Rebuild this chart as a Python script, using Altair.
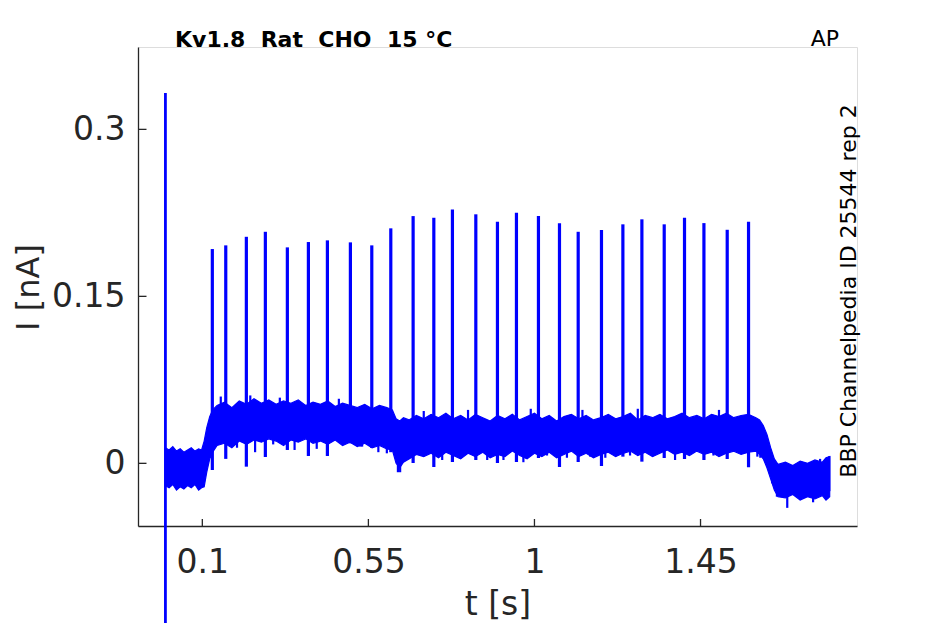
import altair as alt
import pandas as pd

# ---------------- data ----------------
# noisy current band: time [s], upper and lower envelope [nA]
band_t = [0.000, 0.010, 0.020, 0.030, 0.040, 0.050, 0.060, 0.070, 0.080, 0.090,
          0.098, 0.105, 0.112, 0.120, 0.128, 0.140, 0.160, 0.180, 0.200, 0.220,
          0.240, 0.260, 0.280, 0.300, 0.320, 0.340, 0.360, 0.380, 0.400, 0.420,
          0.440, 0.460, 0.480, 0.500, 0.520, 0.540, 0.560, 0.580, 0.600, 0.615,
          0.625, 0.635, 0.645, 0.660, 0.680, 0.700, 0.720, 0.740, 0.760, 0.780,
          0.800, 0.820, 0.840, 0.860, 0.880, 0.900, 0.920, 0.940, 0.960, 0.980,
          1.000, 1.020, 1.040, 1.060, 1.080, 1.100, 1.120, 1.140, 1.160, 1.180,
          1.200, 1.220, 1.240, 1.260, 1.280, 1.300, 1.320, 1.340, 1.360, 1.380,
          1.400, 1.420, 1.440, 1.460, 1.480, 1.500, 1.520, 1.540, 1.560, 1.580,
          1.600, 1.610, 1.620, 1.630, 1.640, 1.650, 1.660, 1.680, 1.700, 1.720,
          1.740, 1.760, 1.780, 1.790, 1.800]
band_hi = [0.014, 0.012, 0.015, 0.011, 0.013, 0.010, 0.012, 0.014, 0.011, 0.013,
           0.012, 0.020, 0.032, 0.042, 0.048, 0.052, 0.055, 0.050, 0.056, 0.053,
           0.058, 0.054, 0.057, 0.053, 0.056, 0.054, 0.057, 0.052, 0.055, 0.053,
           0.056, 0.051, 0.054, 0.052, 0.050, 0.053, 0.049, 0.052, 0.050, 0.048,
           0.040, 0.038, 0.041, 0.039, 0.043, 0.040, 0.044, 0.041, 0.045, 0.040,
           0.043, 0.039, 0.044, 0.041, 0.038, 0.043, 0.040, 0.044, 0.039, 0.042,
           0.045, 0.040, 0.043, 0.038, 0.042, 0.044, 0.040, 0.043, 0.039, 0.041,
           0.044, 0.040, 0.042, 0.045, 0.039, 0.043, 0.041, 0.044, 0.040, 0.042,
           0.045, 0.041, 0.043, 0.040, 0.044, 0.042, 0.045, 0.041, 0.043, 0.044,
           0.041, 0.039, 0.034, 0.026, 0.014, 0.004, -0.001, 0.001, -0.002, 0.002,
           0.000, 0.003, 0.001, 0.005, 0.006]
band_lo = [-0.020, -0.022, -0.019, -0.024, -0.021, -0.023, -0.020, -0.022, -0.019, -0.024,
           -0.022, -0.021, -0.008, 0.004, 0.010, 0.016, 0.018, 0.014, 0.020, 0.017,
           0.021, 0.019, 0.022, 0.020, 0.016, 0.021, 0.019, 0.022, 0.018, 0.020,
           0.017, 0.021, 0.016, 0.019, 0.015, 0.018, 0.014, 0.016, 0.013, 0.012,
           0.000, -0.004, 0.001, 0.004, 0.008, 0.006, 0.009, 0.005, 0.010, 0.007,
           0.004, 0.009, 0.006, 0.010, 0.005, 0.008, 0.006, 0.011, 0.007, 0.004,
           0.009, 0.006, 0.010, 0.005, 0.008, 0.011, 0.006, 0.009, 0.005, 0.008,
           0.010, 0.006, 0.009, 0.011, 0.007, 0.010, 0.006, 0.009, 0.012, 0.008,
           0.010, 0.007, 0.011, 0.008, 0.010, 0.006, 0.009, 0.011, 0.008, 0.010,
           0.011, 0.008, 0.004, -0.004, -0.014, -0.024, -0.030, -0.031, -0.028, -0.033,
           -0.030, -0.032, -0.029, -0.033, -0.030]

# action-potential spikes: time [s], peak [nA], undershoot [nA]
spike_t = [0.1271, 0.1635, 0.2193, 0.2708, 0.3304, 0.3874, 0.4389, 0.5012, 0.5592,
           0.6107, 0.6712, 0.7273, 0.7777, 0.8411, 0.8997, 0.9512, 1.0108, 1.0678,
           1.1185, 1.1816, 1.2396, 1.2911, 1.3516, 1.4066, 1.4592, 1.5223, 1.5801]
spike_peak = [0.1925, 0.1958, 0.2035, 0.2080, 0.1940, 0.1988, 0.2003, 0.1985, 0.1958,
              0.2111, 0.2221, 0.2206, 0.2281, 0.2237, 0.2170, 0.2251, 0.2221, 0.2156,
              0.2080, 0.2096, 0.2147, 0.2192, 0.2147, 0.2206, 0.2158, 0.2098, 0.2170]
spike_dip = [-0.006, 0.004, -0.003, 0.0057, 0.012, 0.0066, 0.0066, 0.018, 0.0138,
             0.010, 0.0003, -0.0033, 0.0012, 0.003, 0.0003, 0.0012, 0.0048, -0.0033,
             0.0012, -0.0024, 0.006, 0.0015, 0.0048, 0.0039, 0.003, 0.0039, -0.0036]

# sporadic noise excursions inside / beyond the band: time [s], top [nA], bottom [nA]
noise_t = [0.194, 0.243, 0.292, 0.350, 0.410, 0.528, 0.533, 0.577, 0.600, 0.630,
           0.636, 0.750, 0.799, 0.872, 0.916, 0.970, 1.034, 1.088, 1.151, 1.192,
           1.224, 1.259, 1.313, 1.381, 1.430, 1.485, 1.550, 1.604, 1.612, 1.644,
           1.657, 1.685, 1.720, 1.755, 1.774, 1.793, 1.799,
           0.150, 0.230, 0.310, 0.470, 0.700, 0.820, 0.990, 1.130, 1.280, 1.500]
noise_top = [0.035, 0.035, 0.035, 0.035, 0.035, 0.035, 0.035, 0.035, 0.030, 0.025,
             0.025, 0.025, 0.025, 0.025, 0.025, 0.025, 0.025, 0.025, 0.025, 0.025,
             0.025, 0.025, 0.025, 0.025, 0.025, 0.025, 0.025, 0.025, 0.025, 0.005,
             -0.010, -0.015, -0.015, -0.015, 0.004, -0.015, 0.0065,
             0.060, 0.061, 0.059, 0.058, 0.047, 0.048, 0.049, 0.048, 0.049, 0.048]
noise_bot = [0.014, 0.010, 0.017, 0.012, 0.013, 0.015, 0.015, 0.010, 0.009, -0.008,
             -0.008, 0.003, 0.005, 0.003, 0.003, 0.001, 0.007, 0.005, 0.006, 0.005,
             0.009, 0.007, 0.010, 0.003, 0.010, 0.007, 0.015, 0.006, 0.005, -0.018,
             -0.030, -0.040, -0.033, -0.035, -0.025, -0.032, -0.025,
             0.030, 0.030, 0.030, 0.030, 0.025, 0.025, 0.025, 0.025, 0.025, 0.025]

# capacitive transient at t = 0
trans_t = [0.0]
trans_top = [0.3326]
trans_bot = [-0.16]

x_ticks = [0.1, 0.55, 1, 1.45]
y_ticks = [0, 0.15, 0.3]
x_domain = [-0.0743, 1.874]
y_domain = [-0.0563, 0.374]

title_text = "Kv1.8\u00a0 Rat\u00a0 CHO\u00a0 15 °C"
corner_text = "AP"
side_text = "BBP Channelpedia ID 25544 rep 2"

# ---------------- chart ----------------
BLUE = "#0000ff"
AX = "#262626"
FONT = "DejaVu Sans"
W, H = 719, 479

X = alt.X("t:Q", scale=alt.Scale(domain=x_domain, nice=False, zero=False),
          axis=alt.Axis(values=x_ticks, format=".3~g", ticks=False, grid=False,
                        labelFontSize=33, labelFont=FONT, labelColor=AX, labelPadding=20,
                        domainColor=AX, domainWidth=1.3,
                        title="t [s]", titleFont=FONT, titleFontSize=33,
                        titleFontWeight="normal", titleColor=AX,
                        titleX=W / 2, titleY=88, titleAlign="center",
                        titleBaseline="alphabetic"))
Y_SCALE = alt.Scale(domain=y_domain, nice=False, zero=False)
Y_AXIS = alt.Axis(values=y_ticks, format=".3~g", ticks=False, grid=False,
                  labelFontSize=33, labelFont=FONT, labelColor=AX, labelPadding=13,
                  domainColor=AX, domainWidth=1.3,
                  title="I [nA]", titleFont=FONT, titleFontSize=32,
                  titleFontWeight="normal", titleColor=AX, titleAngle=270,
                  titleX=-100, titleY=240, titleAlign="center",
                  titleBaseline="alphabetic")


def Y(field):
    return alt.Y(f"{field}:Q", scale=Y_SCALE, axis=Y_AXIS)


band_df = pd.DataFrame({"t": band_t, "hi": band_hi, "lo": band_lo})
band = alt.Chart(band_df).mark_area(color=BLUE, stroke=BLUE, strokeWidth=1.2,
                                    opacity=1).encode(x=X, y=Y("hi"), y2="lo")

spk_df = pd.DataFrame({"t": spike_t, "peak": spike_peak, "dip": spike_dip})
spikes = alt.Chart(spk_df).mark_rule(color=BLUE, strokeWidth=3.2).encode(
    x=X, y=Y("peak"), y2="dip")

noise_df = pd.DataFrame({"t": noise_t, "peak": noise_top, "dip": noise_bot})
noise = alt.Chart(noise_df).mark_rule(color=BLUE, strokeWidth=2.2).encode(
    x=X, y=Y("peak"), y2="dip")

tr_df = pd.DataFrame({"t": trans_t, "peak": trans_top, "dip": trans_bot})
transient = alt.Chart(tr_df).mark_rule(color=BLUE, strokeWidth=2.8).encode(
    x=X, y=Y("peak"), y2="dip")

xt = alt.Chart(pd.DataFrame({"t": x_ticks})).mark_rule(color=AX, strokeWidth=1.3).encode(
    x=X, y=alt.value(H), y2=alt.value(H - 7))
yt = alt.Chart(pd.DataFrame({"I": y_ticks})).mark_rule(color=AX, strokeWidth=1.3).encode(
    y=Y("I"), x=alt.value(0), x2=alt.value(8.5))

title_mark = alt.Chart(pd.DataFrame({"s": [title_text]})).mark_text(
    font=FONT, fontSize=22, fontWeight="bold", color="#000000",
    align="left", baseline="alphabetic").encode(
    x=alt.value(37), y=alt.value(0), text="s:N")
corner_mark = alt.Chart(pd.DataFrame({"s": [corner_text]})).mark_text(
    font=FONT, fontSize=22, color="#000000", align="right",
    baseline="alphabetic").encode(x=alt.value(701), y=alt.value(-1), text="s:N")
side_mark = alt.Chart(pd.DataFrame({"s": [side_text]})).mark_text(
    font=FONT, fontSize=22, color="#000000", align="center",
    baseline="alphabetic", angle=270).encode(
    x=alt.value(718), y=alt.value(244), text="s:N")

chart = alt.layer(band, noise, spikes, transient, xt, yt,
                  title_mark, corner_mark, side_mark).properties(
    width=W, height=H,
    autosize=alt.AutoSizeParams(type="none"),
    padding={"left": 130, "top": 39, "right": 70, "bottom": 97},
).configure_view(stroke=None).configure(background="white")

chart.save("out.html", embed_options={"renderer": "svg", "actions": False})
